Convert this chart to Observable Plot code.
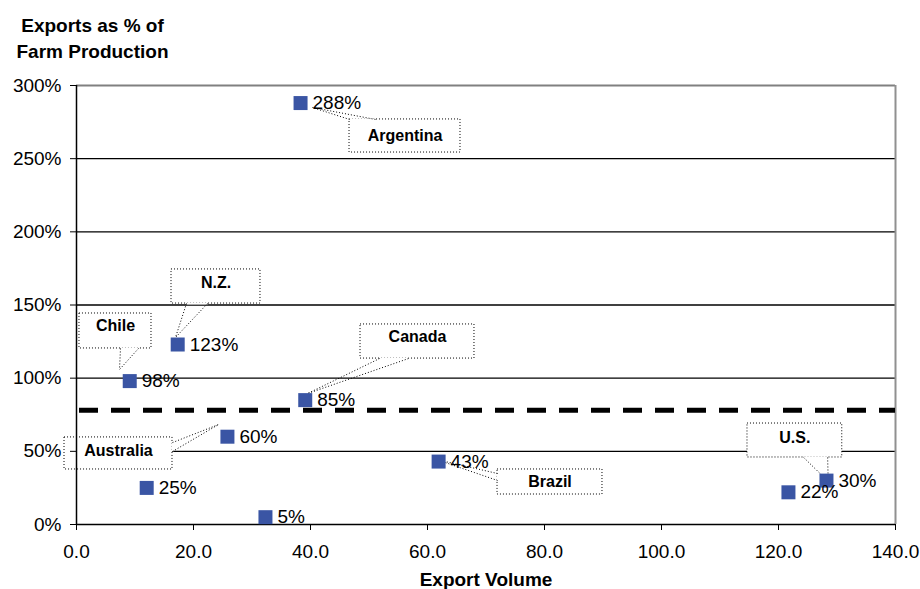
<!DOCTYPE html>
<html>
<head>
<meta charset="utf-8">
<script src="https://cdn.jsdelivr.net/npm/d3@7"></script>
<script src="https://cdn.jsdelivr.net/npm/@observablehq/plot@0.6"></script>
<style>
  html, body { margin: 0; padding: 0; background: #fff; }
  #chart { width: 920px; height: 589px; }
</style>
</head>
<body>
<div id="chart"></div>
<script>
// ---- data ----
const country = ["Argentina", "N.Z.", "Chile", "Canada", "Australia", "Brazil", "U.S.", null, null, null];
const exportVolume = [38.3, 17.3, 9.1, 39.1, 25.8, 61.9, 128.2, 12.0, 32.3, 121.7];
const exportShare = [288, 123, 98, 85, 60, 43, 30, 25, 5, 22];
const xTicks = [0, 20, 40, 60, 80, 100, 120, 140];
const yTicks = [0, 50, 100, 150, 200, 250, 300];
const averageShare = 78;
const titleText = "Exports as % of\nFarm Production";
const xLabelText = "Export Volume";

// ---- callout layout (annotation boxes, in data units) ----
const calloutLayout = [
  {name: "Argentina", x1: 46.67, x2: 65.64, y1: 254.2, y2: 276.8, ly: 265.8, tx: 40.3, ty: 285.0, ax: 46.67, ay: 276.8, bx: 51.1, by: 276.8},
  {name: "N.Z.", x1: 16.24, x2: 31.45, y1: 151.0, y2: 174.3, ly: 165.4, tx: 16.92, ty: 127.8, ax: 18.8, ay: 151.0, bx: 22.39, by: 151.0},
  {name: "Chile", x1: 0.51, x2: 12.82, y1: 120.3, y2: 144.2, ly: 136.0, tx: 7.35, ty: 105.9, ax: 7.52, ay: 120.3, bx: 10.6, by: 120.3},
  {name: "Canada", x1: 48.55, x2: 68.03, y1: 113.4, y2: 136.7, ly: 128.5, tx: 39.49, ty: 89.5, ax: 51.8, ay: 113.4, bx: 56.75, by: 113.4},
  {name: "Australia", x1: -2.05, x2: 16.41, y1: 37.6, y2: 59.5, ly: 50.6, tx: 24.27, ty: 68.3, ax: 16.41, ay: 56.0, bx: 16.41, by: 49.9},
  {name: "Brazil", x1: 71.97, x2: 89.91, y1: 20.5, y2: 37.6, ly: 29.4, tx: 61.54, ty: 44.4, ax: 71.97, ay: 34.85, bx: 71.97, by: 30.07},
  {name: "U.S.", x1: 114.7, x2: 130.9, y1: 45.8, y2: 69.0, ly: 59.5, tx: 128.5, ty: 29.4, ax: 124.3, ay: 45.8, bx: 128.4, by: 45.8}
];

const points = exportVolume.map((v, i) => ({country: country[i], volume: v, share: exportShare[i]}));
const font = "'Liberation Sans', Arial, Helvetica, sans-serif";
const dotted = {stroke: "#000", strokeWidth: 1, strokeDasharray: "1,2"};

const chart = Plot.plot({
  width: 920,
  height: 589,
  marginLeft: 76,
  marginRight: 25,
  marginTop: 85,
  marginBottom: 65,
  style: {fontFamily: font, fontSize: "19px", background: "#fff", color: "#000", overflow: "visible"},
  x: {domain: [0, 140], ticks: xTicks, label: null},
  y: {domain: [0, 300], ticks: yTicks, label: null},
  marks: [
    Plot.ruleY(yTicks.filter(d => d > 0 && d < 300), {stroke: "#000", strokeWidth: 1.3}),
    Plot.ruleY([300], {stroke: "#808080", strokeWidth: 2}),
    Plot.ruleX([140], {stroke: "#909090", strokeWidth: 2}),
    Plot.ruleY([averageShare], {stroke: "#000", strokeWidth: 5, strokeDasharray: "19,13", strokeDashoffset: -3}),
    // callout boxes and pointers
    Plot.rect(calloutLayout, {x1: "x1", x2: "x2", y1: "y1", y2: "y2", fill: "#fff", ...dotted}),
    Plot.link(calloutLayout, {x1: "ax", y1: "ay", x2: "bx", y2: "by", stroke: "#fff", strokeWidth: 2}),
    Plot.link(calloutLayout, {x1: "ax", y1: "ay", x2: "tx", y2: "ty", ...dotted}),
    Plot.link(calloutLayout, {x1: "bx", y1: "by", x2: "tx", y2: "ty", ...dotted}),
    Plot.text(calloutLayout, {x: d => (d.x1 + d.x2) / 2, y: "ly", text: "name", fontWeight: "bold", fontSize: 16, letterSpacing: "0.5px", fill: "#000"}),
    // axes
    Plot.ruleX([0], {stroke: "#000", strokeWidth: 1.5}),
    Plot.ruleY([0], {stroke: "#000", strokeWidth: 1.5}),
    Plot.axisY({ticks: yTicks, tickFormat: d => d + "%", tickSize: 6, tickPadding: 9, fontSize: 19, label: null}),
    Plot.axisX({ticks: xTicks, tickFormat: d => d.toFixed(1), tickSize: 6, tickPadding: 14, fontSize: 19, label: null}),
    // data
    Plot.dot(points, {x: "volume", y: "share", symbol: "square", r: 7.9, fill: "#3A55A4", stroke: "none"}),
    Plot.text(points, {x: "volume", y: "share", text: d => d.share + "%", textAnchor: "start", dx: 12, fontSize: 19, fill: "#000"}),
    // titles
    Plot.text([titleText], {frameAnchor: "top-left", dx: 16, dy: -49, textAnchor: "middle", lineAnchor: "middle", lineHeight: 1.37, fontWeight: "bold", fontSize: 19, fill: "#000"}),
    Plot.text([xLabelText], {frameAnchor: "bottom", dy: 55, textAnchor: "middle", lineAnchor: "middle", fontWeight: "bold", fontSize: 19, fill: "#000"})
  ]
});
document.getElementById("chart").appendChild(chart);
</script>
</body>
</html>
